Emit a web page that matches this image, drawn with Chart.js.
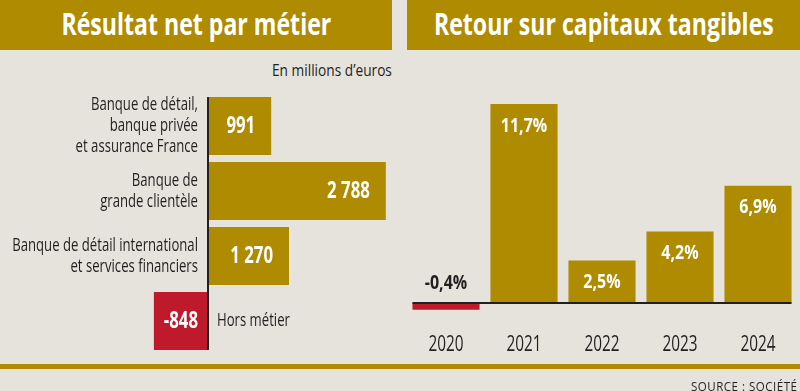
<!DOCTYPE html>
<html lang="fr">
<head>
<meta charset="utf-8">
<script src="https://cdn.jsdelivr.net/npm/chart.js@4.4.1/dist/chart.umd.min.js"></script>
<style>
  html, body { margin: 0; padding: 0; }
  body {
    width: 800px; height: 391px; position: relative; overflow: hidden;
    background: #e6e3dc; color: #231f20;
    font-family: "Open Sans", sans-serif;
  }
  .bandeau {
    position: absolute; top: 0; height: 50px; background: #ae8b00;
    display: flex; justify-content: center;
  }
  .bandeau span {
    color: #fff; font-weight: bold; font-size: 30px; line-height: 47px;
    white-space: nowrap; display: inline-block; transform-origin: center;
  }
  #titreG { left: 0; width: 392px; }
  #titreD { left: 407px; width: 393px; }
  .etroit { position: absolute; white-space: nowrap; transform-origin: right center; }
  #unite { right: 408px; top: 58px; font-size: 17px; }
  canvas { position: absolute; top: 0; }
  #graphG { left: 0; }
  #graphD { left: 400px; }
  #filet { position: absolute; left: 0; top: 364px; width: 800px; height: 5px; background: #ae8b00; }
  #source { right: 3px; top: 378px; font-size: 12px; letter-spacing: 0.5px; }
</style>
</head>
<body>
<div class="bandeau" id="titreG"><span data-w="270">Résultat net par métier</span></div>
<div class="bandeau" id="titreD"><span data-w="340">Retour sur capitaux tangibles</span></div>
<div class="etroit" id="unite" data-w="120">En millions d’euros</div>
<canvas id="graphG" width="400" height="391"></canvas>
<canvas id="graphD" width="400" height="391"></canvas>
<div id="filet"></div>
<div class="etroit" id="source" data-w="106">SOURCE : SOCIÉTÉ</div>

<script>
// Données
const metiers = [
  ['Banque de détail,', 'banque privée', 'et assurance France'],
  ['Banque de', 'grande clientèle'],
  ['Banque de détail international', 'et services financiers'],
  ['Hors métier']
];
const resultats = [991, 2788, 1270, -848];

const annees = ['2020', '2021', '2022', '2023', '2024'];
const rotce = [-0.4, 11.7, 2.5, 4.2, 6.9];

const OR = '#ae8b00';
const ROUGE = '#be1a2b';
const NOIR = '#231f20';
const FONT = '"Open Sans", sans-serif';
const SERRE = 0.73; // compression horizontale (police condensée de l'original)

Chart.defaults.font.family = FONT;

// textes HTML resserrés à la largeur voulue
document.querySelectorAll('[data-w]').forEach(el => {
  el.style.transform = 'scaleX(' + (el.dataset.w / el.offsetWidth) + ')';
});

// 2788 -> "2 788"
function milliers(v) {
  const s = String(Math.abs(v)).replace(/\B(?=(\d{3})+(?!\d))/g, ' ');
  return (v < 0 ? '-' : '') + s;
}
// 11.7 -> "11,7%"
function pourcent(v) {
  return v.toFixed(1).replace('.', ',') + '%';
}

function texte(ctx, txt, x, y, align, sx) {
  ctx.save();
  ctx.translate(x, y);
  ctx.scale(sx, 1);
  ctx.textAlign = align;
  ctx.fillText(txt, 0, 0);
  ctx.restore();
}

// étiquettes du graphique de gauche (métiers + valeurs) et axe vertical
const etiquettesMetiers = {
  id: 'etiquettesMetiers',
  afterDatasetsDraw(chart) {
    const ctx = chart.ctx;
    const x0 = chart.scales.x.getPixelForValue(0);
    const bars = chart.getDatasetMeta(0).data;
    ctx.save();

    const premier = bars[0], dernier = bars[bars.length - 1];
    ctx.strokeStyle = NOIR;
    ctx.lineWidth = 2;
    ctx.beginPath();
    ctx.moveTo(x0, premier.y - premier.height / 2);
    ctx.lineTo(x0, dernier.y + dernier.height / 2);
    ctx.stroke();

    ctx.textBaseline = 'middle';
    bars.forEach((bar, i) => {
      const v = resultats[i];
      ctx.fillStyle = '#fff';
      ctx.font = 'bold 23px ' + FONT;
      if (v >= 0) {
        texte(ctx, milliers(v), bar.x - 16, bar.y, 'right', SERRE);
      } else {
        texte(ctx, milliers(v), (bar.x + bar.base) / 2, bar.y, 'center', SERRE);
      }

      ctx.fillStyle = NOIR;
      ctx.font = '18px ' + FONT;
      const lignes = metiers[i];
      const lh = 21;
      const y0 = bar.y - (lignes.length - 1) * lh / 2;
      const align = v >= 0 ? 'right' : 'left';
      const xt = v >= 0 ? x0 - 10 : x0 + 9;
      lignes.forEach((l, k) => texte(ctx, l, xt, y0 + k * lh, align, SERRE));
    });
    ctx.restore();
  }
};

// valeurs, années et ligne du zéro du graphique de droite
const etiquettesRotce = {
  id: 'etiquettesRotce',
  afterDatasetsDraw(chart) {
    const ctx = chart.ctx;
    const yz = chart.scales.y.getPixelForValue(0);
    const bars = chart.getDatasetMeta(0).data;
    ctx.save();

    const premier = bars[0], dernier = bars[bars.length - 1];
    ctx.strokeStyle = NOIR;
    ctx.lineWidth = 2;
    ctx.beginPath();
    ctx.moveTo(premier.x - premier.width / 2, yz);
    ctx.lineTo(dernier.x + dernier.width / 2, yz);
    ctx.stroke();

    ctx.textBaseline = 'middle';
    bars.forEach((bar, i) => {
      const v = rotce[i];
      ctx.font = 'bold 20px ' + FONT;
      if (v >= 0) {
        ctx.fillStyle = '#fff';
        texte(ctx, pourcent(v), bar.x, bar.y + 22, 'center', 0.8);
      } else {
        ctx.fillStyle = NOIR;
        texte(ctx, pourcent(v), bar.x, yz - 20, 'center', 0.8);
      }
      ctx.fillStyle = NOIR;
      ctx.font = '21px ' + FONT;
      texte(ctx, annees[i], bar.x, 345, 'center', SERRE);
    });
    ctx.restore();
  }
};

new Chart(document.getElementById('graphG'), {
  type: 'bar',
  data: {
    labels: metiers,
    datasets: [{
      data: resultats,
      backgroundColor: resultats.map(v => v < 0 ? ROUGE : OR),
      barPercentage: 0.89,
      categoryPercentage: 1
    }]
  },
  options: {
    indexAxis: 'y',
    responsive: false,
    animation: false,
    layout: { padding: { top: 93.5, bottom: 37.5, left: 0, right: 0 } },
    plugins: { legend: { display: false }, tooltip: { enabled: false } },
    scales: {
      x: { display: false, min: -3260, max: 3010 },
      y: { display: false }
    }
  },
  plugins: [etiquettesMetiers]
});

new Chart(document.getElementById('graphD'), {
  type: 'bar',
  data: {
    labels: annees,
    datasets: [{
      data: rotce,
      backgroundColor: rotce.map(v => v < 0 ? ROUGE : OR),
      barPercentage: 0.86,
      categoryPercentage: 1
    }]
  },
  options: {
    responsive: false,
    animation: false,
    layout: { padding: { top: 65, bottom: 62.5, left: 7, right: 3 } },
    plugins: { legend: { display: false }, tooltip: { enabled: false } },
    scales: {
      x: { display: false },
      y: { display: false, min: -1.5, max: 14 }
    }
  },
  plugins: [etiquettesRotce]
});
</script>
</body>
</html>
